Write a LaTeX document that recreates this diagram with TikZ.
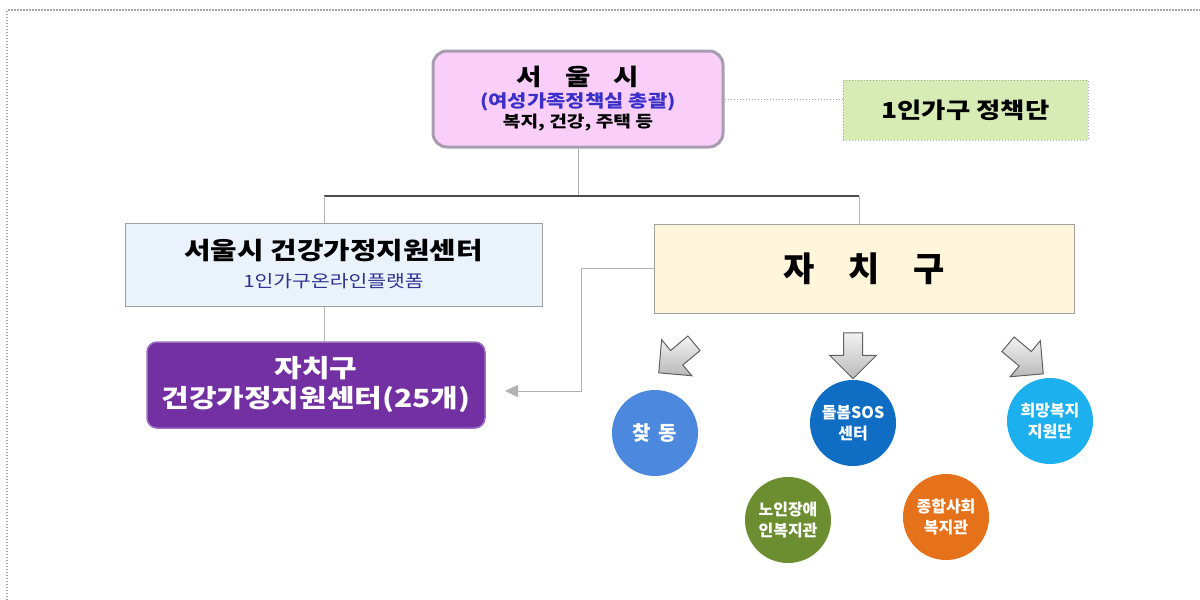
\documentclass[tikz,border=0pt]{standalone}
\usepackage{fontspec}
\setmainfont{Noto Sans CJK KR}
\newfontfamily\krwide[FakeStretch=1.2]{Noto Sans CJK KR}
\usepackage{tikz}
\usetikzlibrary{positioning,shapes.arrows,arrows.meta}
\definecolor{seoulpink}{HTML}{F9CFF9}
\definecolor{seoulline}{HTML}{A89CB0}
\definecolor{policygreen}{HTML}{D7EBB4}
\definecolor{centerblue}{HTML}{EAF3FB}
\definecolor{guyellow}{HTML}{FFF5DA}
\definecolor{guviolet}{HTML}{7230A2}
\definecolor{titleblue}{HTML}{3B2FC9}
\definecolor{subblue}{HTML}{2E3192}
\definecolor{cdong}{HTML}{4C88DD}
\definecolor{csos}{HTML}{0F6DC4}
\definecolor{chope}{HTML}{1DB0EE}
\definecolor{celder}{HTML}{6C8E30}
\definecolor{csocial}{HTML}{E6711B}
\newcommand \mydrawcircle[5]
{
\node[circ,fill=#4] (#1) at (#2,#3) {#5};
}

\begin{document}
\begin{tikzpicture}[x=1pt,y=-1pt,
  frame/.style={gray!70,line width=1.2pt,dash pattern=on 1.5pt off 1.5pt},
  link/.style={gray!60,line width=1pt},
  bus/.style={black!70,line width=1.2pt},
  circ/.style={circle,minimum size=86pt,inner sep=0pt,text=white,align=center,font=\fontsize{16}{21}\selectfont\bfseries},
  blockarr/.style={single arrow,draw=gray!75!black,line width=1pt,top color=gray!10,bottom color=gray!55,minimum height=46pt,inner sep=9pt,single arrow head extend=14pt}]
\useasboundingbox (0,0) rectangle (1200,600);
\draw[frame] (7,600) -- (7,10) -- (1200,10);
% top level
\node[draw=seoulline,line width=3pt,fill=seoulpink,rounded corners=14pt,minimum width=290pt,minimum height=96pt,align=center,font=\krwide\fontsize{16}{20}\selectfont\bfseries] (seoul) at (578,99)
  {{\fontsize{23}{27}\selectfont 서\hspace{1em}울\hspace{1em}시}\\[2pt]{\fontsize{17.5}{20}\selectfont\color{titleblue}(여성가족정책실 총괄)}\\{\fontsize{16}{20}\selectfont 복지, 건강, 주택 등}};
\node[draw=gray!70,dotted,line width=1pt,fill=policygreen,minimum width=245pt,minimum height=60pt,font=\krwide\fontsize{22}{26}\selectfont\bfseries] (team) at (965.5,110) {1인가구 정책단};
% second level
\node[draw=gray!75,line width=1pt,fill=centerblue,minimum width=417pt,minimum height=83pt,align=center,font=\krwide\fontsize{17}{28}\selectfont] (center) at (333.5,264.5)
  {{\fontsize{24}{28}\selectfont\bfseries 서울시 건강가정지원센터}\\{\color{subblue}1인가구온라인플랫폼}};
\node[draw=gray!75,line width=1pt,fill=guyellow,minimum width=420pt,minimum height=89pt,font=\fontsize{34}{40}\selectfont\bfseries] (gu) at (864,268.5) {자\quad 치\quad 구};
\node[draw=guviolet!70!white,line width=1.5pt,fill=guviolet,rounded corners=10pt,minimum width=338pt,minimum height=86pt,align=center,text=white,font=\krwide\fontsize{25}{30}\selectfont\bfseries] (gucenter) at (316,385) {자치구\\건강가정지원센터(25개)};
% block arrows
\node[blockarr,rotate=220] (arrL) at (680,355) {};
\node[blockarr,rotate=-90] (arrM) at (853,351) {};
\node[blockarr,rotate=-40] (arrR) at (1022,356) {};
% circles
\mydrawcircle{dong}{655}{433}{cdong}{{\fontsize{20}{24}\selectfont 찾\hspace{0.4em}동}}
\mydrawcircle{sos}{853}{423}{csos}{돌봄SOS\\센터}
\mydrawcircle{hope}{1050}{421}{chope}{희망복지\\지원단}
\mydrawcircle{elder}{788}{520}{celder}{노인장애\\인복지관}
\mydrawcircle{social}{946}{517}{csocial}{종합사회\\복지관}
% connectors
\coordinate (split) at (578,196);
\coordinate (splitL) at (324,196);
\coordinate (splitR) at (859,196);
\coordinate (turn) at (581,391);
\coordinate (tip) at (505,391);
\draw[gray!70,dotted,line width=1pt] (seoul.east) -- (seoul.east -| team.west);
\draw[link] (seoul.south) -- (split);
\draw[bus] (splitL) -- (splitR);
\draw[link] (splitL) -- (splitL |- center.north);
\draw[link] (splitR) -- (splitR |- gu.north);
\draw[link] (splitL |- center.south) -- (splitL |- gucenter.north);
\draw[link,-{Triangle[length=13pt,width=12pt]}] (gu.west) -| (turn) -- (tip);
\end{tikzpicture}
\end{document}
